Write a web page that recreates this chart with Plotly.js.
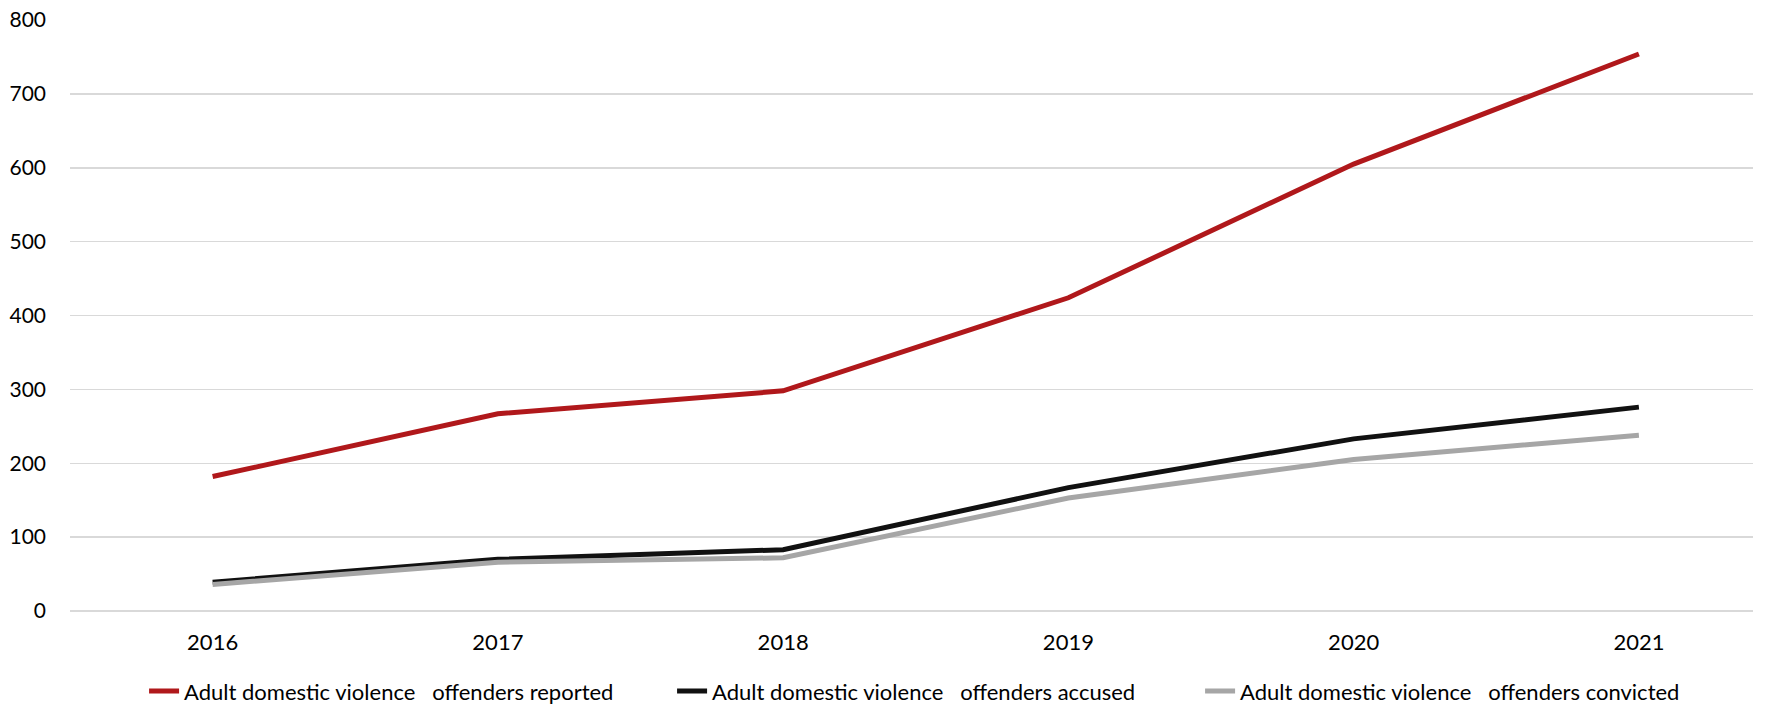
<!DOCTYPE html>
<html>
<head>
<meta charset="utf-8">
<script src="https://cdn.plot.ly/plotly-3.0.1.min.js"></script>
<style>html,body{margin:0;padding:0;background:#fff;}#chart{width:1770px;height:706px;}</style>
</head>
<body>
<div id="chart"></div>
<script>
const years = ['2016', '2017', '2018', '2019', '2020', '2021'];
const reported = [182, 267, 298, 424, 605, 754];
const accused = [39, 70, 83, 167, 233, 276];
const convicted = [36, 66, 72, 153, 205, 238];
const seriesNames = [
  'Adult domestic violence   offenders reported',
  'Adult domestic violence   offenders accused',
  'Adult domestic violence   offenders convicted'
];
const yTicks = [0, 100, 200, 300, 400, 500, 600, 700, 800];

const mk = (y, name, color) => ({
  x: years, y: y, name: name, type: 'scatter', mode: 'lines',
  line: {color: color, width: 5},
  hoverinfo: 'x+y'
});

const data = [
  mk(reported, seriesNames[0], '#B0181B'),
  mk(accused, seriesNames[1], '#111111'),
  mk(convicted, seriesNames[2], '#A6A6A6')
];

const layout = {
  width: 1770, height: 706,
  margin: {l: 70, r: 17, t: 20, b: 95, autoexpand: false},
  paper_bgcolor: '#ffffff', plot_bgcolor: '#ffffff',
  font: {family: 'Lato, "Open Sans", sans-serif', size: 22, color: '#000000'},
  xaxis: {
    type: 'category', range: [-0.5, 5.4],
    showgrid: false, zeroline: false, showline: false, ticks: '',
    tickfont: {family: 'Lato, sans-serif', size: 22, color: '#000'},
    ticklabelstandoff: 16,
    fixedrange: true
  },
  yaxis: {
    range: [0, 800], tickvals: yTicks,
    showgrid: true, gridcolor: '#D9D9D9', gridwidth: 1.5,
    zeroline: true, zerolinecolor: '#D9D9D9', zerolinewidth: 1.5,
    showline: false, ticks: '',
    tickfont: {family: 'Lato, sans-serif', size: 21, color: '#000'},
    ticklabelstandoff: 23,
    fixedrange: true
  },
  showlegend: true,
  legend: {
    orientation: 'h', xref: 'container', yref: 'container',
    x: 0.0814, xanchor: 'left', y: 0.021, yanchor: 'middle',
    font: {family: 'Lato, sans-serif', size: 22, color: '#000'},
    bgcolor: 'rgba(0,0,0,0)', borderwidth: 0,
    entrywidth: 483, entrywidthmode: 'pixels',
    traceorder: 'normal'
  }
};

Plotly.newPlot('chart', data, layout, {displayModeBar: false, staticPlot: true});
</script>
</body>
</html>
